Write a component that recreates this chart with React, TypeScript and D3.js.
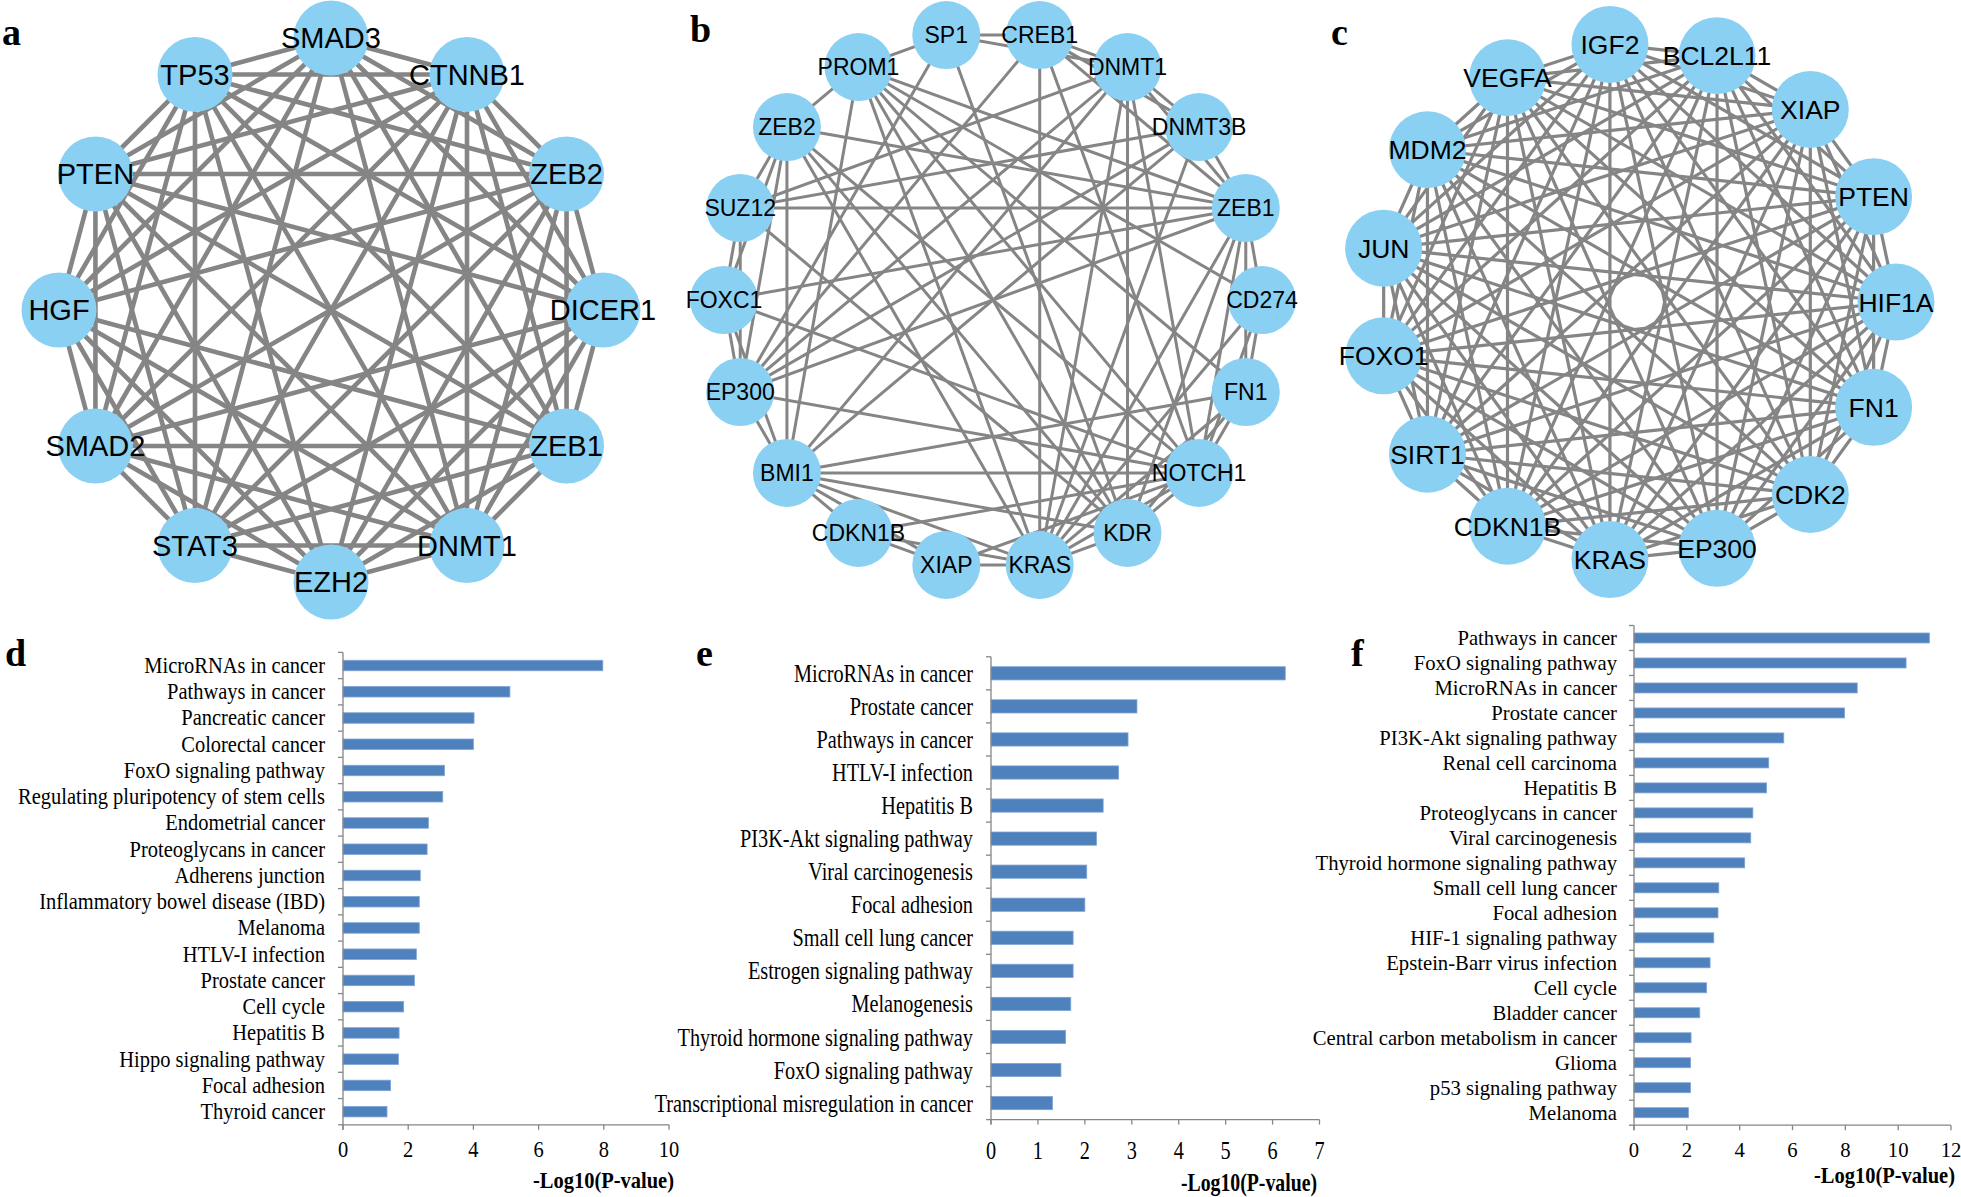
import React from "react";
import * as d3 from "d3";

const W = 1961;
const H = 1197;

// ---- network a (clockwise from top)
const netANodes = ["SMAD3", "CTNNB1", "ZEB2", "DICER1", "ZEB1", "DNMT1", "EZH2", "STAT3", "SMAD2", "HGF", "PTEN", "TP53"];
const netAMissing = [["SMAD3", "EZH2"], ["HGF", "DICER1"]];

// ---- network b (clockwise from CREB1)
const netBNodes = ["CREB1", "DNMT1", "DNMT3B", "ZEB1", "CD274", "FN1", "NOTCH1", "KDR", "KRAS", "XIAP", "CDKN1B", "BMI1", "EP300", "FOXC1", "SUZ12", "ZEB2", "PROM1", "SP1"];
const netBEdges = [
  ["SP1", "CREB1"], ["CREB1", "DNMT1"], ["DNMT1", "DNMT3B"], ["DNMT3B", "ZEB1"], ["ZEB1", "CD274"], ["CD274", "FN1"],
  ["FN1", "NOTCH1"], ["NOTCH1", "KDR"], ["KDR", "KRAS"], ["KRAS", "XIAP"], ["XIAP", "CDKN1B"], ["CDKN1B", "BMI1"],
  ["BMI1", "EP300"], ["EP300", "FOXC1"], ["FOXC1", "SUZ12"], ["SUZ12", "ZEB2"], ["ZEB2", "PROM1"], ["PROM1", "SP1"],
  ["SP1", "DNMT1"], ["CREB1", "DNMT3B"], ["DNMT1", "ZEB1"], ["ZEB1", "FN1"], ["FN1", "KDR"], ["NOTCH1", "KRAS"],
  ["KRAS", "CDKN1B"], ["XIAP", "BMI1"], ["BMI1", "FOXC1"], ["EP300", "SUZ12"], ["FOXC1", "ZEB2"], ["CD274", "NOTCH1"],
  ["SUZ12", "ZEB1"], ["SUZ12", "DNMT3B"], ["SUZ12", "DNMT1"],
  ["ZEB2", "ZEB1"], ["ZEB2", "NOTCH1"], ["ZEB2", "KDR"], ["ZEB2", "KRAS"], ["ZEB2", "BMI1"], ["ZEB2", "EP300"],
  ["PROM1", "ZEB1"], ["PROM1", "CD274"], ["PROM1", "FN1"], ["PROM1", "KDR"], ["PROM1", "KRAS"], ["PROM1", "BMI1"], ["PROM1", "NOTCH1"],
  ["SP1", "EP300"], ["SP1", "KDR"],
  ["CREB1", "KRAS"], ["CREB1", "EP300"], ["CREB1", "ZEB1"], ["CREB1", "NOTCH1"],
  ["DNMT1", "KDR"], ["DNMT1", "EP300"], ["DNMT1", "BMI1"], ["DNMT1", "KRAS"], ["DNMT1", "NOTCH1"],
  ["DNMT3B", "EP300"], ["DNMT3B", "BMI1"], ["DNMT3B", "KRAS"],
  ["ZEB1", "FOXC1"], ["ZEB1", "EP300"], ["ZEB1", "NOTCH1"], ["ZEB1", "KDR"], ["ZEB1", "KRAS"],
  ["CD274", "KRAS"], ["FN1", "BMI1"], ["FN1", "KRAS"],
  ["NOTCH1", "BMI1"], ["NOTCH1", "FOXC1"], ["NOTCH1", "EP300"], ["NOTCH1", "CDKN1B"], ["NOTCH1", "XIAP"],
  ["BMI1", "KRAS"], ["BMI1", "KDR"], ["KDR", "SUZ12"],
];

// ---- network c (clockwise from HIF1A)
const netCNodes = ["HIF1A", "FN1", "CDK2", "EP300", "KRAS", "CDKN1B", "SIRT1", "FOXO1", "JUN", "MDM2", "VEGFA", "IGF2", "BCL2L11", "XIAP", "PTEN"];
const netCMissing = [];

// ---- KEGG bars
const dCats = ["MicroRNAs in cancer", "Pathways in cancer", "Pancreatic cancer", "Colorectal cancer", "FoxO signaling pathway", "Regulating pluripotency of stem cells", "Endometrial cancer", "Proteoglycans in cancer", "Adherens junction", "Inflammatory bowel disease (IBD)", "Melanoma", "HTLV-I infection", "Prostate cancer", "Cell cycle", "Hepatitis B", "Hippo signaling pathway", "Focal adhesion", "Thyroid cancer"];
const dVals = [7.97, 5.12, 4.02, 4.0, 3.11, 3.06, 2.62, 2.58, 2.37, 2.34, 2.34, 2.25, 2.19, 1.86, 1.72, 1.7, 1.46, 1.35];
const dTicks = [0, 2, 4, 6, 8, 10];

const eCats = ["MicroRNAs in cancer", "Prostate cancer", "Pathways in cancer", "HTLV-I infection", "Hepatitis B", "PI3K-Akt signaling pathway", "Viral carcinogenesis", "Focal adhesion", "Small cell lung cancer", "Estrogen signaling pathway", "Melanogenesis", "Thyroid hormone signaling pathway", "FoxO signaling pathway", "Transcriptional misregulation in cancer"];
const eVals = [6.27, 3.11, 2.92, 2.72, 2.39, 2.25, 2.04, 2.0, 1.75, 1.75, 1.7, 1.59, 1.49, 1.31];
const eTicks = [0, 1, 2, 3, 4, 5, 6, 7];

const fCats = ["Pathways in cancer", "FoxO signaling pathway", "MicroRNAs in cancer", "Prostate cancer", "PI3K-Akt signaling pathway", "Renal cell carcinoma", "Hepatitis B", "Proteoglycans in cancer", "Viral carcinogenesis", "Thyroid hormone signaling pathway", "Small cell lung cancer", "Focal adhesion", "HIF-1 signaling pathway", "Epstein-Barr virus infection", "Cell cycle", "Bladder cancer", "Central carbon metabolism in cancer", "Glioma", "p53 signaling pathway", "Melanoma"];
const fVals = [11.18, 10.3, 8.45, 7.97, 5.67, 5.1, 5.02, 4.5, 4.42, 4.19, 3.21, 3.18, 3.02, 2.88, 2.75, 2.49, 2.16, 2.14, 2.14, 2.06];
const fTicks = [0, 2, 4, 6, 8, 10, 12];

const SANS = "Arial, 'Liberation Sans', sans-serif";
const SERIF = "'Times New Roman', 'Liberation Serif', serif";
const NODE = "#8AD0F3";
const EDGE = "#858585";
const BAR = "#4F81BD";
const AXIS = "#868686";

const allPairs = (names, missing) => {
  const skip = new Set(missing.map(([a, b]) => [a, b].sort().join("|")));
  const out = [];
  names.forEach((a, i) => names.slice(i + 1).forEach((b) => {
    if (!skip.has([a, b].sort().join("|"))) out.push([a, b]);
  }));
  return out;
};

const Network = ({ names, edges, cx, cy, r, startDeg, nodeR, strokeW, fontSize }) => {
  const ang = d3.scaleLinear().domain([0, names.length]).range([startDeg, startDeg + 360]);
  const pos = new Map();
  names.forEach((n, i) => {
    const a = (ang(i) * Math.PI) / 180;
    pos.set(n, [cx + r * Math.cos(a), cy + r * Math.sin(a)]);
  });
  return (
    <g>
      {edges.map(([a, b], i) => {
        const p = pos.get(a);
        const q = pos.get(b);
        return <line key={i} x1={p[0]} y1={p[1]} x2={q[0]} y2={q[1]} stroke={EDGE} strokeWidth={strokeW} />;
      })}
      {names.map((n) => (
        <circle key={n} cx={pos.get(n)[0]} cy={pos.get(n)[1]} r={nodeR} fill={NODE} />
      ))}
      {names.map((n) => (
        <text key={n + "t"} x={pos.get(n)[0]} y={pos.get(n)[1]} dy="0.36em" textAnchor="middle"
          fontFamily={SANS} fontSize={fontSize} fill="#000">{n}</text>
      ))}
    </g>
  );
};

const BarPanel = ({ cats, vals, ticks, x0, x1, top, bottom, labelRight, font, sx, tickY, titleRight, titleY, titleFont, titleSx }) => {
  const x = d3.scaleLinear().domain([ticks[0], ticks[ticks.length - 1]]).range([x0, x1]);
  const y = d3.scaleBand().domain(cats).range([top, bottom]).paddingInner(0).paddingOuter(0);
  const step = y.step();
  const bh = step * 0.4;
  return (
    <g>
      {cats.map((c, i) => (
        <rect key={c} x={x(0)} y={y(c) + (step - bh) / 2} width={x(vals[i]) - x(0)} height={bh}
          fill={BAR} stroke="#7FA5D6" strokeWidth={0.8} />
      ))}
      <line x1={x0} x2={x0} y1={top} y2={bottom + 5} stroke={AXIS} strokeWidth={1.3} />
      {d3.range(cats.length + 1).map((i) => (
        <line key={"yt" + i} x1={x0 - 5} x2={x0} y1={top + i * step} y2={top + i * step} stroke={AXIS} strokeWidth={1.3} />
      ))}
      <line x1={x0} x2={x1} y1={bottom} y2={bottom} stroke={AXIS} strokeWidth={1.3} />
      {ticks.map((t) => (
        <line key={"xt" + t} x1={x(t)} x2={x(t)} y1={bottom} y2={bottom + 5} stroke={AXIS} strokeWidth={1.3} />
      ))}
      {cats.map((c) => (
        <text key={c + "l"} transform={`translate(${labelRight},${y(c) + step / 2}) scale(${sx},1)`} dy="0.33em"
          textAnchor="end" fontFamily={SERIF} fontSize={font} fill="#000">{c}</text>
      ))}
      {ticks.map((t) => (
        <text key={"tl" + t} transform={`translate(${x(t)},${tickY}) scale(${sx},1)`} dy="0.33em"
          textAnchor="middle" fontFamily={SERIF} fontSize={font} fill="#000">{t}</text>
      ))}
      <text transform={`translate(${titleRight},${titleY}) scale(${titleSx},1)`} dy="0.33em" textAnchor="end"
        fontFamily={SERIF} fontWeight="bold" fontSize={titleFont} fill="#000">-Log10(P-value)</text>
    </g>
  );
};

const Letter = ({ x, y, t }) => (
  <text x={x} y={y} fontFamily={SERIF} fontWeight="bold" fontSize={38} fill="#000">{t}</text>
);

export default function App() {
  return (
    <div style={{ position: "absolute", left: 0, top: 0 }}>
      <svg width={W} height={H} style={{ display: "block", background: "#fff" }}>
        <Network names={netANodes} edges={allPairs(netANodes, netAMissing)} cx={331} cy={310} r={272}
          startDeg={-90} nodeR={37.5} strokeW={4.6} fontSize={29} />
        <Network names={netBNodes} edges={netBEdges} cx={993} cy={300} r={269}
          startDeg={-80} nodeR={34} strokeW={3} fontSize={23} />
        <Network names={netCNodes} edges={allPairs(netCNodes, netCMissing)} cx={1637} cy={302} r={259}
          startDeg={0} nodeR={38.5} strokeW={3.2} fontSize={26.5} />

        <BarPanel cats={dCats} vals={dVals} ticks={dTicks} x0={343} x1={669} top={652.4} bottom={1124.8}
          labelRight={325} font={22.5} sx={0.91} tickY={1150} titleRight={674} titleY={1180} titleFont={23} titleSx={0.89} />
        <BarPanel cats={eCats} vals={eVals} ticks={eTicks} x0={991} x1={1319.5} top={656.8} bottom={1119.6}
          labelRight={973} font={26} sx={0.78} tickY={1150} titleRight={1317} titleY={1182} titleFont={26} titleSx={0.76} />
        <BarPanel cats={fCats} vals={fVals} ticks={fTicks} x0={1634} x1={1951} top={625.5} bottom={1125.2}
          labelRight={1617} font={22} sx={0.94} tickY={1150} titleRight={1955} titleY={1175} titleFont={23} titleSx={0.89} />

        <Letter x={2} y={45} t="a" />
        <Letter x={690} y={42} t="b" />
        <Letter x={1331} y={45} t="c" />
        <Letter x={5} y={666} t="d" />
        <Letter x={696} y={666} t="e" />
        <Letter x={1351} y={666} t="f" />
      </svg>
    </div>
  );
}
